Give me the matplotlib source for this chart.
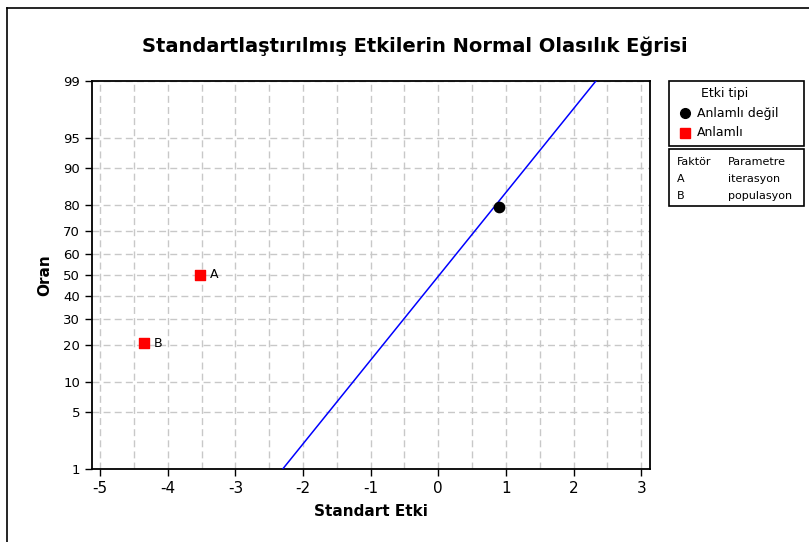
import numpy as np
import matplotlib
matplotlib.use("Agg")
import matplotlib.pyplot as plt
from matplotlib.patches import Rectangle
from matplotlib.lines import Line2D
from math import erf, sqrt

# --- data ---
effect_names = ["A", "B"]
effect_x = [-3.52, -4.35]          # standardized effects (significant)
effect_p = [50.0, 20.6]            # percent
other_x = [0.90]                   # not significant
other_p = [79.4]
line_x = [-2.30, 2.33]             # fitted normal line end points
line_p = [1.0, 99.0]
y_ticks = [1, 5, 10, 20, 30, 40, 50, 60, 70, 80, 90, 95, 99]
x_ticks = [-5, -4, -3, -2, -1, 0, 1, 2, 3]


def ppf(p):
    # inverse normal cdf (Acklam approximation), p in percent
    q = np.clip(np.asarray(p, dtype=float) / 100.0, 1e-12, 1 - 1e-12)
    a = [-3.969683028665376e+01, 2.209460984245205e+02, -2.759285104469687e+02,
         1.383577518672690e+02, -3.066479806614716e+01, 2.506628277459239e+00]
    b = [-5.447609879822406e+01, 1.615858368580409e+02, -1.556989798598866e+02,
         6.680131188771972e+01, -1.328068155288572e+01]
    c = [-7.784894002430293e-03, -3.223964580411365e-01, -2.400758277161838e+00,
         -2.549732539343734e+00, 4.374664141464968e+00, 2.938163982698783e+00]
    d = [7.784695709041462e-03, 3.224671290700398e-01, 2.445134137142996e+00,
         3.754408661907416e+00]
    out = np.empty_like(q)
    lo = q < 0.02425
    hi = q > 1 - 0.02425
    mid = ~(lo | hi)
    r = q[mid] - 0.5
    s = r * r
    out[mid] = ((((((a[0]*s+a[1])*s+a[2])*s+a[3])*s+a[4])*s+a[5])*r /
                (((((b[0]*s+b[1])*s+b[2])*s+b[3])*s+b[4])*s+1))
    for mask, sign, qq in ((lo, 1, q[lo]), (hi, -1, 1 - q[hi])):
        t = np.sqrt(-2 * np.log(qq))
        out[mask] = sign * ((((((c[0]*t+c[1])*t+c[2])*t+c[3])*t+c[4])*t+c[5]) /
                            ((((d[0]*t+d[1])*t+d[2])*t+d[3])*t+1))
    return out


def cdf(z):
    z = np.asarray(z, dtype=float)
    return np.vectorize(lambda v: 50.0 * (1 + erf(v / sqrt(2))))(z)


fig = plt.figure(figsize=(8.09, 5.42), dpi=100)
W, H = 809, 542
ax = fig.add_axes([92 / W, 1 - 469 / H, 558 / W, 388 / H])

ax.set_yscale("function", functions=(ppf, cdf))
ax.set_ylim(1, 99)
ax.set_xlim(-5.12, 3.13)

ax.set_yticks(y_ticks)
ax.set_yticklabels([str(v) for v in y_ticks], fontsize=9.5)
ax.set_xticks(x_ticks)
ax.set_xticklabels([str(v) for v in x_ticks], fontsize=11)
ax.set_xticks(np.arange(-4.5, 3.01, 1.0), minor=True)
ax.yaxis.set_minor_locator(matplotlib.ticker.NullLocator())
ax.tick_params(axis="x", which="minor", length=0)
ax.tick_params(direction="out", length=5, width=1, colors="black")

grid_kw = dict(color="#c8c8c8", linestyle=(0, (5, 3)), linewidth=1)
ax.grid(True, axis="x", which="both", **grid_kw)
ax.grid(True, axis="y", which="major", **grid_kw)
ax.set_axisbelow(True)
for sp in ax.spines.values():
    sp.set_linewidth(1.3)

ax.plot(line_x, line_p, color="#0000ff", linewidth=1.1, zorder=3)
ax.scatter(other_x, other_p, marker="o", s=55, color="black", zorder=4)
ax.scatter(effect_x, effect_p, marker="s", s=55, color="#ff0000", zorder=4)
for name, x, p in zip(effect_names, effect_x, effect_p):
    ax.annotate(name, (x, p), xytext=(7, 0), textcoords="offset points",
                va="center", ha="left", fontsize=9)

ax.set_xlabel("Standart Etki", fontsize=11, fontweight="bold", labelpad=6)
ax.set_ylabel("Oran", fontsize=11, fontweight="bold", labelpad=8)
fig.text(415 / W, 1 - 46 / H, "Standartlaştırılmış Etkilerin Normal Olasılık Eğrisi",
         ha="center", va="center", fontsize=14, fontweight="bold")

# outer frame
fig.add_artist(Line2D([7 / W, 7 / W], [0, 1 - 8 / H], color="black", lw=1.2))
fig.add_artist(Line2D([7 / W, 1], [1 - 8 / H, 1 - 8 / H], color="black", lw=1.2))

# legend boxes
def fx(px):
    return px / W


def fy(py):
    return 1 - py / H


fig.add_artist(Rectangle((fx(669), fy(146)), (804 - 669) / W, (146 - 81) / H,
                         fill=False, edgecolor="black", lw=1.2))
fig.add_artist(Rectangle((fx(669), fy(206)), (804 - 669) / W, (206 - 149) / H,
                         fill=False, edgecolor="black", lw=1.2))
fig.text(fx(701), fy(93), "Etki tipi", fontsize=9, va="center")
fig.add_artist(Line2D([fx(685)], [fy(113)], marker="o", markersize=7,
                      color="black", linestyle="none"))
fig.text(fx(697), fy(113), "Anlamlı değil", fontsize=9, va="center")
fig.add_artist(Line2D([fx(685)], [fy(133)], marker="s", markersize=7,
                      color="#ff0000", linestyle="none"))
fig.text(fx(697), fy(133), "Anlamlı", fontsize=9, va="center")

factor_rows = [("Faktör", "Parametre"), ("A", "iterasyon"), ("B", "populasyon")]
for i, (f, p) in enumerate(factor_rows):
    yy = fy(162 + i * 17)
    fig.text(fx(677), yy, f, fontsize=8, va="center")
    fig.text(fx(728), yy, p, fontsize=8, va="center")

fig.savefig("out.png", dpi=100)
